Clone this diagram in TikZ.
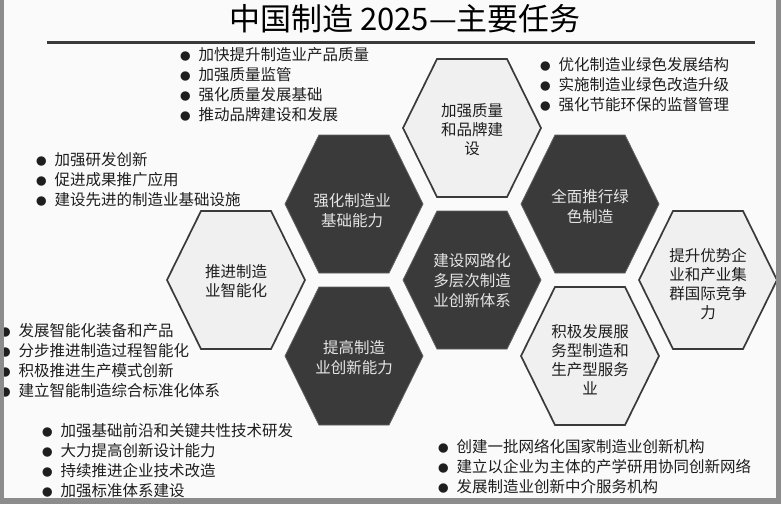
\documentclass[tikz,border=0pt]{standalone}
\usepackage{fontspec}
\setmainfont{Noto Sans CJK SC}
\usepackage{tikz}

\definecolor{celldark}{HTML}{3A3A3A}
\definecolor{celllight}{HTML}{F0F0F0}
\definecolor{ink}{HTML}{1E1E1E}
\definecolor{framegray}{HTML}{8C8C8C}

\newcommand{\dotitem}{{\fontsize{10.5}{10}\selectfont ●}\hspace{8pt}}

\begin{document}
\begin{tikzpicture}[x=1pt,y=-1pt,
  lightcell/.style={fill=celllight,draw=celldark,line width=1.7pt},
  darkcell/.style={fill=celldark,draw=celldark!80!white,line width=0.8pt},
  lighttext/.style={align=center,text=ink,font=\fontsize{15.5}{19}\selectfont},
  darktext/.style={align=center,text=white!90!black,font=\fontsize{15.5}{20}\selectfont},
  tasklist/.style={align=left,anchor=west,inner sep=0pt,text=ink,font=\fontsize{15.5}{20}\selectfont}]

\useasboundingbox (0,0) rectangle (781,504);
\fill[white!98!black] (0,0) rectangle (781,504);

% title and rule
\node[font=\fontsize{31}{31}\selectfont,text=black] (title) at (405,19) {中国制造 2025—主要任务};
\draw[line width=3pt,celldark] (47,42) -- (755,42);

\foreach \cx/\cy in {236/280,472/128,590/356,708/280} % edit here for the light cells
\draw[lightcell,shift={(\cx,\cy)}] (-69,0) -- (-35,-69) -- (35,-69) -- (69,0) -- (35,69) -- (-35,69) -- cycle;
\foreach \cx/\cy in {354/204,354/356,472/280,590/204} % edit here for the dark cells
\draw[darkcell,shift={(\cx,\cy)}] (-69,0) -- (-35,-69) -- (35,-69) -- (69,0) -- (35,69) -- (-35,69) -- cycle;

\node[lighttext] (smart) at (236,281) {推进制造\\业智能化};
\node[darktext] (base) at (352,211) {强化制造业\\基础能力};
\node[darktext] (innovate) at (354,358) {提高制造\\业创新能力};
\node[lighttext] (quality) at (472,130) {加强质量\\和品牌建\\设};
\node[darktext] (network) at (472,281) {建设网路化\\多层次制造\\业创新体系};
\node[darktext] (green) at (590,207) {全面推行绿\\色制造};
\node[lighttext] (service) at (590,360) {积极发展服\\务型制造和\\生产型服务\\业};
\node[lighttext] (global) at (708,284) {提升优势企\\业和产业集\\群国际竞争\\力};

% task lists
\node[tasklist] (qualitylist) at (180,85) {\dotitem 加快提升制造业产品质量\\\dotitem 加强质量监管\\\dotitem 强化质量发展基础\\\dotitem 推动品牌建设和发展};
\node[tasklist] (greenlist) at (540,85) {\dotitem 优化制造业绿色发展结构\\\dotitem 实施制造业绿色改造升级\\\dotitem 强化节能环保的监督管理};
\node[tasklist] (baselist) at (36,180) {\dotitem 加强研发创新\\\dotitem 促进成果推广应用\\\dotitem 建设先进的制造业基础设施};
\node[tasklist] (smartlist) at (0,361) {\dotitem 发展智能化装备和产品\\\dotitem 分步推进制造过程智能化\\\dotitem 积极推进生产模式创新\\\dotitem 建立智能制造综合标准化体系};
\node[tasklist] (innovatelist) at (42,461) {\dotitem 加强基础前沿和关键共性技术研发\\\dotitem 大力提高创新设计能力\\\dotitem 持续推进企业技术改造\\\dotitem 加强标准体系建设};
\node[tasklist] (networklist) at (438,467) {\dotitem 创建一批网络化国家制造业创新机构\\\dotitem 建立以企业为主体的产学研用协同创新网络\\\dotitem 发展制造业创新中介服务机构};

% frame
\fill[framegray] (0,0) rectangle (4,504);
\fill[framegray] (776,0) rectangle (781,504);
\fill[framegray] (0,498) rectangle (781,504);

\end{tikzpicture}
\end{document}
